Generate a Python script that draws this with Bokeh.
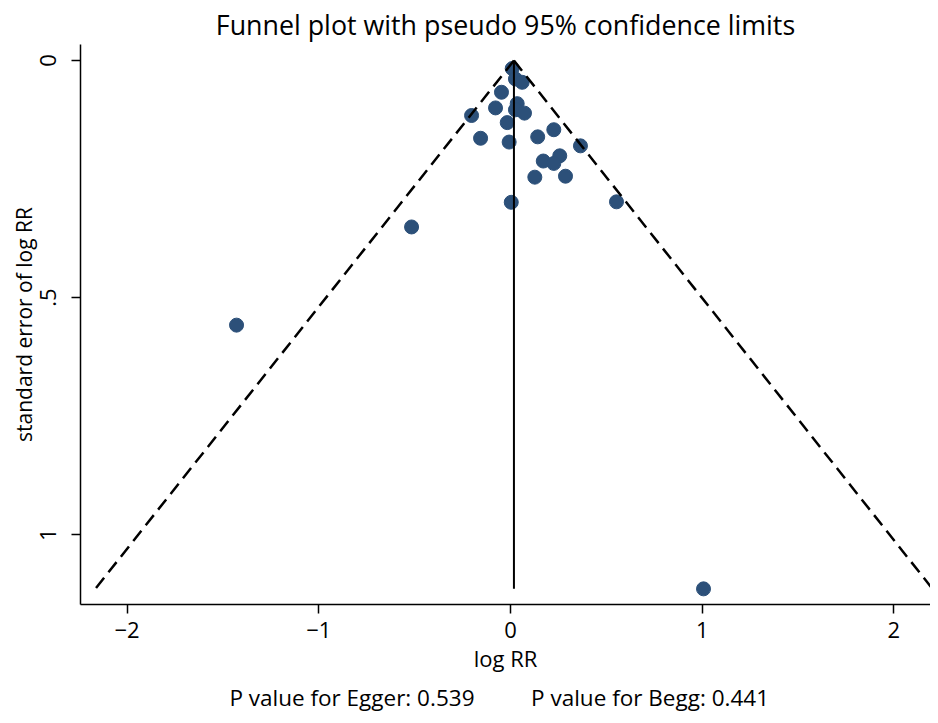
from bokeh.plotting import figure
from bokeh.models import Range1d, FixedTicker, LinearAxis
from bokeh.embed import file_html
from bokeh.resources import INLINE

# Data
log_rr = [0.009, 0.026, 0.061, -0.047, -0.078, 0.035, 0.026, 0.073, -0.203, -0.017,
          0.226, -0.156, 0.142, -0.007, 0.365, 0.257, 0.171, 0.226, 0.127, 0.287,
          0.004, 0.553, -0.516, -1.429, 1.007]
se_log_rr = [0.017, 0.039, 0.046, 0.067, 0.100, 0.091, 0.104, 0.111, 0.116, 0.131,
             0.146, 0.164, 0.161, 0.172, 0.180, 0.201, 0.212, 0.217, 0.246, 0.244,
             0.299, 0.298, 0.351, 0.558, 1.114]
pooled = 0.018
x_ticks = [-2, -1, 0, 1, 2]
y_ticks = [0, 0.5, 1]
y_tick_labels = {0: "0", 0.5: ".5", 1: "1"}
title_text = "Funnel plot with pseudo 95% confidence limits"
note_positions = [-0.827, 0.728]
note_texts = ["P value for Egger: 0.539", "P value for Begg: 0.441"]

FONT = "Open Sans"
W, H = 930, 715

p = figure(width=W, height=H, output_backend="svg", toolbar_location=None,
           x_range=Range1d(-2.243, 2.191), y_range=Range1d(1.147, -0.0337),
           min_border_left=80, min_border_right=0, min_border_top=44, min_border_bottom=110)
p.outline_line_color = None
p.xgrid.visible = False
p.ygrid.visible = False
p.background_fill_color = "white"
p.border_fill_color = "white"

p.title.text = title_text
p.title.align = "center"
p.title.vertical_align = "top"
p.title.text_font = FONT
p.title.text_font_size = "26.8px"
p.title.text_font_style = "normal"
p.title.text_color = "black"
p.title.standoff = 0

p.scatter(log_rr, se_log_rr, size=14, fill_color="#2c5079", line_color="#2c5079")

# Funnel lines (drawn from the apex downwards, on top of the markers)
se_max = max(se_log_rr)
for sign in (-1, 1):
    p.line([pooled, pooled + sign * 1.96 * se_max], [0, se_max],
           line_color="black", line_width=2.5, line_dash="13 7")
p.line([pooled, pooled], [0, se_max], line_color="black", line_width=2)

def style(ax, size):
    ax.axis_line_width = 1.5
    ax.axis_line_color = "black"
    ax.major_tick_line_width = 1.5
    ax.major_tick_out = 9
    ax.major_tick_in = 0
    ax.minor_tick_out = 0
    ax.minor_tick_in = 0
    ax.major_label_text_font = FONT
    ax.major_label_text_font_size = size
    ax.major_label_text_color = "black"
    ax.axis_label_text_font = FONT
    ax.axis_label_text_font_size = "22px"
    ax.axis_label_text_font_style = "normal"
    ax.axis_label_text_color = "black"

style(p.xaxis[0], "22px")
style(p.yaxis[0], "22px")

p.xaxis[0].ticker = FixedTicker(ticks=x_ticks)
p.xaxis[0].major_label_overrides = {t: (str(t).replace("-", "\u2212")) for t in x_ticks}
p.xaxis[0].axis_label = "log RR"
p.xaxis[0].axis_label_standoff = 2
p.xaxis[0].major_label_standoff = 8

p.yaxis[0].ticker = FixedTicker(ticks=y_ticks)
p.yaxis[0].major_label_overrides = y_tick_labels
p.yaxis[0].major_label_orientation = "vertical"
p.yaxis[0].axis_label = "standard error of log RR"
p.yaxis[0].axis_label_text_font_size = "21px"
p.yaxis[0].axis_label_standoff = 0
p.yaxis[0].major_label_standoff = 15

# Notes below the axis, drawn as labels of an extra bare axis
notes = LinearAxis(ticker=FixedTicker(ticks=note_positions),
                   major_label_overrides=dict(zip(note_positions, note_texts)))
style(notes, "22.5px")
notes.axis_line_color = None
notes.major_tick_line_color = None
notes.major_tick_out = 0
notes.major_label_standoff = 6
p.add_layout(notes, "below")

open("out.html", "w").write(file_html(p, INLINE))
